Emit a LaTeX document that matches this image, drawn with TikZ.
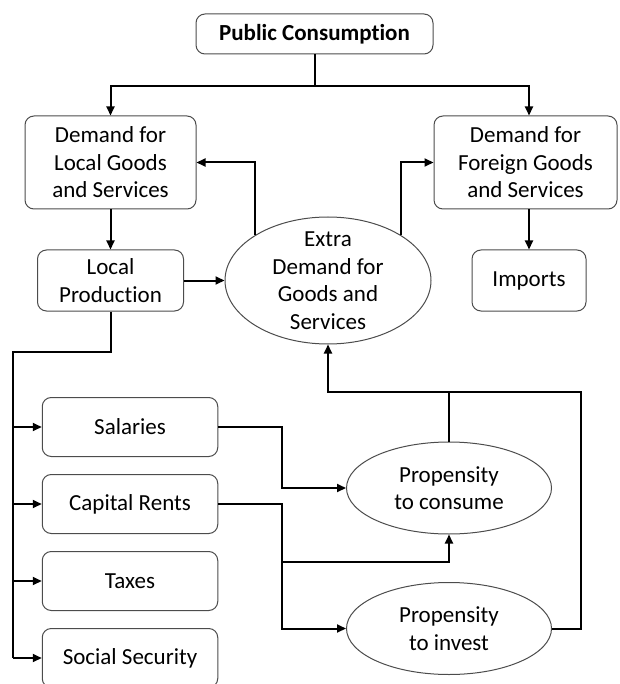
\documentclass[tikz,border=0pt]{standalone}
\usepackage{fontspec}
\setmainfont[Ligatures=NoCommon]{Carlito}
\usetikzlibrary{shapes.geometric, arrows.meta, positioning}

\begin{document}
\begin{tikzpicture}[x=1pt, y=1pt, >={Triangle[length=9pt,width=8pt]},
  font=\fontsize{23}{27.5}\selectfont,
  box/.style={draw=black!70, line width=1pt, rounded corners=9pt, align=center, inner sep=2pt},
  oval/.style={draw=black!70, line width=1pt, ellipse, align=center, inner sep=0pt},
  link/.style={line width=2pt}]
  \useasboundingbox (0,0) rectangle (619,-684);

  % top part
  \node[box, minimum width=237pt, minimum height=40pt, font=\fontsize{23}{27.5}\selectfont\bfseries] (pub) at (314.5,-34) {Public Consumption};
  \node[box, minimum width=171pt, minimum height=93pt] (demloc) at (110.5,-162.5) {Demand for\\Local Goods\\and Services};
  \node[box, minimum width=183pt, minimum height=93pt] (demfor) at (525.5,-162.5) {Demand for\\Foreign Goods\\and Services};
  \node[box, minimum width=146pt, minimum height=61pt, below=40pt of demloc] (prod) {Local\\Production};
  \node[box, minimum width=114pt, minimum height=61pt, below=40pt of demfor, xshift=3.5pt] (imp) {Imports};
  \node[oval, minimum width=206pt, minimum height=127pt, inner sep=-12pt] (extra) at (328,-280.5) {Extra\\Demand for\\Goods and\\Services};

  % incomes
  \node[box, minimum width=175.5pt, minimum height=59pt] (sal) at (130,-427) {Salaries};
  \node[box, minimum width=175.5pt, minimum height=59pt, below=17pt of sal] (cap) {Capital Rents};
  \node[box, minimum width=175.5pt, minimum height=59pt, below=17pt of cap] (tax) {Taxes};
  \node[box, minimum width=175.5pt, minimum height=59pt, below=17pt of tax] (soc) {Social Security};

  \node[oval, minimum width=205pt, minimum height=92pt] (cons) at (449,-488) {Propensity\\to consume};
  \node[oval, minimum width=205pt, minimum height=92pt, below=47.5pt of cons] (inv) {Propensity\\to invest};

  \coordinate (split) at (314.5,-86);
  \draw[link] (pub) -- (split);
  \draw[link,->] (split) -| (demloc);
  \draw[link,->] (split) -| ([xshift=3.5pt]demfor.north);
  \draw[link,->] (demloc) -- (prod);
  \draw[link,->] (imp.north |- demfor.south) -- (imp);
  \draw[link,->] (prod.east) -- (prod.east -| extra.west);
  \draw[link,->] (extra.north west) |- (demloc);
  \draw[link,->] (extra.north east) |- (demfor);

  \coordinate (trunk) at (12.6,-352);
  \draw[link] (prod) |- (trunk) -- (trunk |- soc.west);
  \foreach \n in {sal,cap,tax,soc}
    \draw[link,->] (trunk |- \n.west) -- (\n.west);

  \draw[link,->] (sal.east) -- ++(64,0) |- (cons);
  \draw[link,->] (cap.east) -- ++(64,0) coordinate (capjog) |- (inv);
  \coordinate (mid) at (449,-562);
  \draw[link,->] (capjog |- mid) -| (cons);

  \coordinate (back) at (328,-392);
  \draw[link,->] (inv.east) -- ++(28.5,0) |- (back) -- (extra);
  \draw[link] (cons) -- (cons |- back);
\end{tikzpicture}
\end{document}
